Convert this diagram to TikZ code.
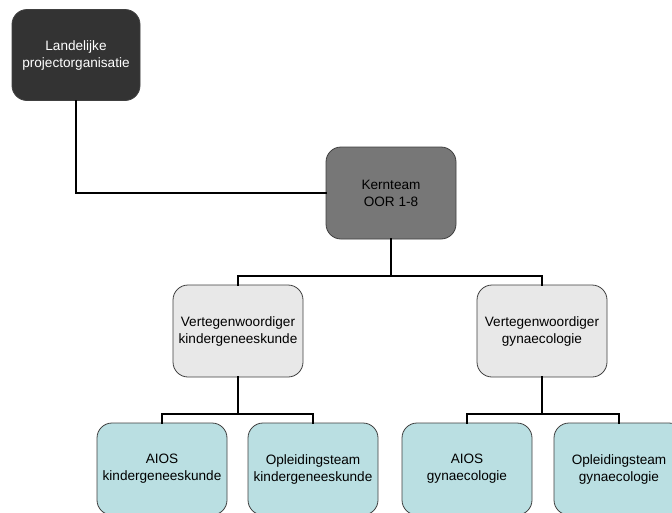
\documentclass[tikz,border=0pt]{standalone}
\usepackage{fontspec}
\setmainfont{Liberation Sans}
\usetikzlibrary{positioning}
\definecolor{darkbox}{HTML}{333333}
\definecolor{midbox}{HTML}{777777}
\definecolor{lightbox}{HTML}{E8E8E8}
\definecolor{tealbox}{HTML}{BADFE2}
\definecolor{rim}{HTML}{404040}
\tikzset{
  box/.style={draw=rim, line width=0.8pt, rounded corners=15pt, align=center,
    minimum width=130pt, minimum height=92pt, inner sep=0pt,
    font=\fontsize{13.6}{17}\selectfont},
  link/.style={line width=2pt, line cap=rect}
}

\begin{document}
\begin{tikzpicture}[x=1pt, y=-1pt]
\clip (0,0) rectangle (672,512);
\fill[white] (0,0) rectangle (672,512);
\node[box, fill=darkbox, text=white, minimum width=128pt, minimum height=91pt] (land) at (76,55) {Landelijke\\projectorganisatie};
\node[box, fill=midbox] (kern) at (391,193) {Kernteam\\ OOR 1-8};
\node[box, fill=lightbox] (vkind) at (238,331) {Vertegenwoordiger\\kindergeneeskunde};
\node[box, fill=lightbox] (vgyn)  at (542,331) {Vertegenwoordiger\\gynaecologie};
\node[box, fill=tealbox] (aiosk) at (162,469) {AIOS\\kindergeneeskunde};
\node[box, fill=tealbox] (oplk)  at (313,469) {Opleidingsteam\\kindergeneeskunde};
\node[box, fill=tealbox] (aiosg) at (467,469) {AIOS\\gynaecologie};
\node[box, fill=tealbox] (oplg)  at (619,469) {Opleidingsteam\\gynaecologie};
\draw[link] (land) |- (kern);
\foreach \j in {vkind,vgyn}
{
  \draw[link] (kern.south) -- ++(0,37) -| (\j);
}
\foreach \j in {aiosk,oplk}
{
  \draw[link] (vkind.south) -- ++(0,37) -| (\j);
}
\foreach \j in {aiosg,oplg}
{
  \draw[link] (vgyn.south) -- ++(0,37) -| (\j);
}
\end{tikzpicture}
\end{document}
